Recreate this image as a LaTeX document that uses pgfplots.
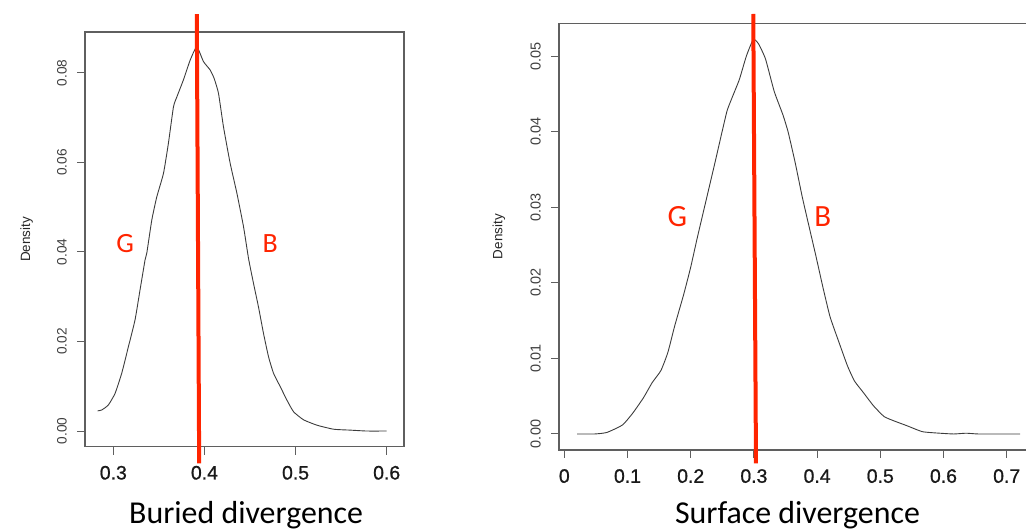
\documentclass[border=0pt]{standalone}
\usepackage{pgfplots}
\pgfplotsset{compat=1.18}
\usepackage{fontspec}
\setmainfont{Carlito}
\newfontfamily\arial{Liberation Sans}
\newfontfamily\arialb[FakeBold=0.9]{Liberation Sans}
\definecolor{myred}{RGB}{255,36,0}
\definecolor{axgray}{RGB}{95,95,95}
\definecolor{curve}{RGB}{60,60,60}

\pgfplotstableread{
x y
0.2827 0.0045
0.2873 0.0047
0.2945 0.0058
0.3019 0.0084
0.3092 0.0129
0.3165 0.0188
0.3238 0.0248
0.3293 0.0315
0.3348 0.0382
0.3367 0.0397
0.3422 0.0471
0.3477 0.0523
0.3550 0.0575
0.3604 0.0642
0.3660 0.0724
0.3697 0.0746
0.3769 0.0784
0.3843 0.0828
0.3916 0.0858
0.3989 0.0825
0.4063 0.0806
0.4107 0.0787
0.4154 0.0754
0.4209 0.0679
0.4282 0.0598
0.4356 0.0531
0.4429 0.0456
0.4484 0.0385
0.4538 0.0330
0.4593 0.0277
0.4648 0.0218
0.4703 0.0166
0.4758 0.0129
0.4832 0.0099
0.4905 0.0069
0.4978 0.0043
0.5088 0.0025
0.5235 0.0013
0.5418 0.0004
0.5601 0.0002
0.5780 0.0000
0.6000 0.0000
}\buried

\pgfplotstableread{
x y
0.0204 0.0000
0.0480 0.0000
0.0673 0.0002
0.0922 0.0012
0.1087 0.0028
0.1253 0.0048
0.1391 0.0068
0.1529 0.0084
0.1639 0.0108
0.1750 0.0144
0.1887 0.0184
0.1998 0.0220
0.2108 0.0261
0.2246 0.0310
0.2384 0.0359
0.2494 0.0399
0.2577 0.0428
0.2660 0.0446
0.2770 0.0469
0.2881 0.0500
0.2991 0.0522
0.3074 0.0516
0.3184 0.0496
0.3322 0.0453
0.3460 0.0422
0.3543 0.0399
0.3653 0.0359
0.3764 0.0314
0.3874 0.0274
0.3985 0.0234
0.4095 0.0193
0.4205 0.0155
0.4343 0.0122
0.4481 0.0090
0.4592 0.0070
0.4730 0.0055
0.4895 0.0037
0.5061 0.0023
0.5226 0.0017
0.5419 0.0011
0.5668 0.0003
0.5944 0.0001
0.6164 0.0000
0.6358 0.0001
0.6551 0.0000
0.6937 0.0000
0.7213 0.0000
}\surface

\pgfplotsset{rstyle/.style={
  scale only axis, anchor=south west, clip=false,
  scaled x ticks=false, scaled y ticks=false,
  axis line style={axgray, line width=1.1bp},
  tick style={axgray, line width=1bp},
  tick align=outside, tick pos=left,
  major tick length=8bp,
  xticklabel style={font=\arialb\fontsize{19.5}{20}\selectfont, text=black!90, inner sep=0pt, anchor=north},
  yticklabel style={font=\arial\fontsize{13.7}{14}\selectfont, text=black!75, rotate=90, anchor=south, inner sep=0pt},
  xticklabel shift=11bp,
  yticklabel shift=10bp,
  ylabel={Density},
  ylabel style={font=\arial\fontsize{13.5}{14}\selectfont, text=black!85, anchor=center},
  xlabel style={font=\fontsize{32}{36}\selectfont, anchor=center},
}}

\begin{document}
\begin{tikzpicture}
\path[use as bounding box] (0,0) rectangle (1026bp,531bp);

% Left panel: Buried divergence
\begin{axis}[rstyle,
  at={(85bp,84.3bp)}, width=319bp, height=414.7bp,
  xmin=0.2689, xmax=0.619, ymin=-0.0035, ymax=0.0891,
  xtick={0.3,0.4,0.5,0.6}, xticklabels={0.3,0.4,0.5,0.6},
  ytick={0,0.02,0.04,0.06,0.08}, yticklabels={0.00,0.02,0.04,0.06,0.08},
  xlabel={Buried divergence},
  xlabel style={at={(axis description cs:0.505,-0.1647)}},
  ylabel style={at={(axis description cs:-0.1828,0.5)}},
]
\addplot[curve, line width=0.9bp, smooth, tension=0.3] table[x=x,y=y] {\buried};
\addplot[myred, line width=4bp] coordinates {(0.3916,0.0931) (0.3942,-0.0072)};
\node[text=myred, font=\fontsize{28}{30}\selectfont] at (axis cs:0.3129,0.0419) {G};
\node[text=myred, font=\fontsize{28}{30}\selectfont] at (axis cs:0.4722,0.0419) {B};
\end{axis}

% Right panel: Surface divergence
\begin{axis}[rstyle,
  at={(559bp,81bp)}, width=485.6bp, height=426.7bp,
  xmin=-0.0084, xmax=0.76, ymin=-0.00212, ymax=0.05433,
  xtick={0,0.1,0.2,0.3,0.4,0.5,0.6,0.7}, xticklabels={0,0.1,0.2,0.3,0.4,0.5,0.6,0.7},
  ytick={0,0.01,0.02,0.03,0.04,0.05}, yticklabels={0.00,0.01,0.02,0.03,0.04,0.05},
  yticklabel style={font=\arial\fontsize{14.5}{15}\selectfont},
  xlabel={Surface divergence},
  xlabel style={at={(axis description cs:0.491,-0.153)}},
  ylabel style={at={(axis description cs:-0.1236,0.5)}},
]
\addplot[curve, line width=0.9bp, smooth, tension=0.3] table[x=x,y=y] {\surface};
\addplot[myred, line width=4bp] coordinates {(0.299,0.05556) (0.3033,-0.00388)};
\node[text=myred, font=\fontsize{31}{33}\selectfont] at (axis cs:0.1788,0.0287) {G};
\node[text=myred, font=\fontsize{31}{33}\selectfont] at (axis cs:0.4089,0.0287) {B};
\end{axis}
\end{tikzpicture}
\end{document}
